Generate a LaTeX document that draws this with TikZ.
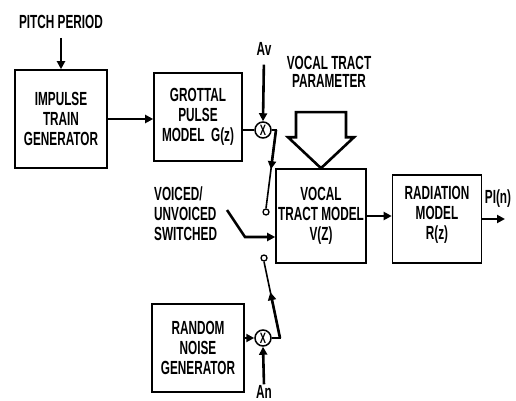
\documentclass[tikz,border=0pt]{standalone}
\usepackage{fontspec}
\newfontfamily\blockfont{Liberation Sans}[FakeStretch=0.62]
\usetikzlibrary{arrows.meta,positioning,calc}

\begin{document}
\begin{tikzpicture}[x=1pt,y=1pt,
  font=\blockfont\bfseries\fontsize{19}{20}\selectfont,
  blk/.style={draw,line width=1.6pt,align=center,inner sep=0pt},
  lbl/.style={inner sep=0pt,align=center},
  mult/.style={draw,circle,line width=1.5pt,minimum size=16pt,inner sep=0pt,
    font=\blockfont\bfseries\fontsize{15}{15}\selectfont},
  contact/.style={draw,circle,line width=1.3pt,minimum size=6pt,inner sep=0pt},
  wire/.style={line width=1.6pt},
  arr/.style={-{Triangle[length=8pt,width=8pt]},line width=2.6pt}]
\useasboundingbox (0,0) rectangle (516,-401);
% excitation side
\node[lbl] (pitch) at (61,-22) {PITCH PERIOD};
\node[blk,minimum width=92pt,minimum height=98pt] (impulse) at (61,-119)
  {IMPULSE\\TRAIN\\GENERATOR};
\node[blk,minimum width=88pt,minimum height=88pt] (glottal) at (198,-117)
  {GROTTAL\\PULSE\\MODEL~~G(z)};
\node[blk,minimum width=92pt,minimum height=88pt] (noise) at (198,-348)
  {RANDOM\\NOISE\\GENERATOR};
\draw[arr] (pitch.south) ++(0,-9) -- (impulse.north);
\draw[arr] (impulse.east) -- (impulse.east -| glottal.west);
% gains
\node[mult] (mult1) at (263,-130) {X};
\node[mult] (mult2) at (263,-338) {X};
\node[lbl] (av) at (264,-49) {Av};
\node[lbl] (an) at (264,-392) {An};
\draw[wire] (glottal.east |- mult1) -- (mult1.west);
\draw[arr,shorten <=9pt] (av.south) -- (mult1.north);
\draw[arr] (noise.east |- mult2) -- (mult2.west);
\draw[arr,shorten <=1pt] (an.north) -- (mult2.south);
% voiced / unvoiced switch
\node[contact] (c1) at (266,-212) {};
\node[contact] (c2) at (264,-258) {};
\coordinate (k1) at (276,-130);
\coordinate (k2) at (280,-338);
\draw[wire] (mult1.east) -- (k1) -- (c1.north);
\draw[arr] (k1) -- ($(k1)!0.5!(c1.north)$);
\draw[wire] (mult2.east) -- (k2) -- (c2.south);
\draw[arr] (k2) -- ($(k2)!0.6!(c2.south)$);
\node[lbl,align=left,anchor=west] (vus) at (154,-214)
  {VOICED/\\UNVOICED\\SWITCHED};
% vocal tract + radiation
\node[blk,minimum width=90pt,minimum height=94pt] (vocal) at (321,-216)
  {VOCAL\\TRACT MODEL\\V(Z)};
\node[blk,minimum width=89pt,minimum height=88pt] (radiation) at (437,-219)
  {RADIATION\\MODEL\\R(z)\\[-8pt]};
\coordinate (lv) at (227,-210);
\coordinate (lb) at (245,-237);
\draw[arr] (lv) -- (lb) -- (lb -| vocal.west);
\draw[arr] (vocal.east) -- (vocal.east -| radiation.west);
\coordinate (out) at (505,-219);
\draw[arr] (radiation.east) -- (out);
\node[lbl] (pin) at (498,-199) {PI(n)};
% vocal tract parameter input
\node[lbl,font=\blockfont\bfseries\fontsize{19}{18}\selectfont] (vtp) at (329,-72)
  {VOCAL TRACT\\PARAMETER};
\draw[line width=2.6pt,line join=miter]
  ($(vocal.north)+(-25,56)$) -- ($(vocal.north)+(25,56)$)
  -- ($(vocal.north)+(25,31)$) -- ($(vocal.north)+(33,31)$)
  -- (vocal.north) -- ($(vocal.north)+(-33,31)$)
  -- ($(vocal.north)+(-25,31)$) -- cycle;
\end{tikzpicture}
\end{document}
